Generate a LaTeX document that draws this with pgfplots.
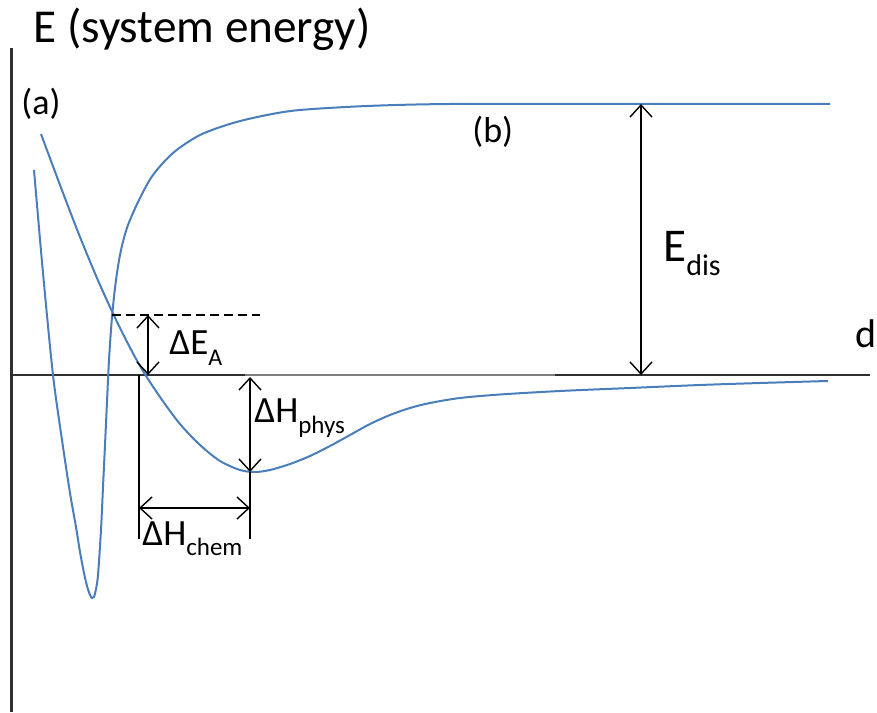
\documentclass[border=0pt]{standalone}
\usepackage{fontspec}
\setmainfont{Carlito}
\usepackage{pgfplots}
\pgfplotsset{compat=1.18}
\usetikzlibrary{arrows.meta}

\definecolor{curve}{HTML}{4A7EBB}
\definecolor{axisdark}{HTML}{303030}
\definecolor{axisgray}{HTML}{7F7F7F}

\newcommand{\fs}[1]{\fontsize{#1}{#1}\selectfont}
\newcommand{\sub}[2]{\raisebox{-0.28em}{\fs{#1}#2}}

\begin{document}
\begin{tikzpicture}[
  dbl/.style={black, line width=0.7pt,
    {Straight Barb[length=6pt,width=11pt]}-{Straight Barb[length=6pt,width=11pt]}}]
\begin{axis}[
  scale only axis,
  width=438.5pt, height=356pt,
  xmin=0, xmax=877, ymin=-337, ymax=375,
  axis lines=none, ticks=none,
  clip=false,
]
% energy axis and distance axis
\draw[axisdark, line width=1.5pt] (axis cs:11,327) -- (axis cs:11,-337);
\draw[axisdark, line width=1.2pt] (axis cs:10,0) -- (axis cs:870,0);
\draw[axisgray, line width=1.4pt] (axis cs:245,0) -- (axis cs:555,0);

% (a) physisorption potential
\addplot[curve, line width=1pt, smooth] coordinates {
  (41,241) (60,190) (80,138) (100,90) (120,47) (140,9) (160,-22)
  (180,-49) (200,-70) (220,-86) (240,-95) (255,-97) (270,-95)
  (290,-89) (310,-81) (330,-71) (350,-60) (370,-49) (390,-40)
  (410,-33) (430,-28) (460,-23) (500,-19.5) (560,-16) (630,-13)
  (700,-10) (760,-8) (828,-6)
};

% (b) chemisorption potential
\addplot[curve, line width=1pt, smooth] coordinates {
  (34,205) (43,102) (53,0) (62,-65) (70,-118) (76,-152) (80,-177)
  (84,-198) (87,-211) (90,-220) (92,-223) (94,-222) (96,-214)
  (98,-200) (101,-155) (103,-112) (105,-70) (107,-27) (109,15)
  (112,58) (116,95) (121,125) (128,150) (140,177) (153,200)
  (173,222) (200,240) (233,252) (267,260) (300,265) (367,269)
  (450,271) (600,271) (830,271)
};

% activation barrier
\draw[black, line width=0.75pt, dash pattern=on 4.5pt off 2.5pt]
  (axis cs:112,60) -- (axis cs:260,60);
\draw[dbl] (axis cs:148,60) -- (axis cs:148,0);

% physisorption depth
\draw[dbl] (axis cs:250,-2) -- (axis cs:250,-97);

% chemisorption distance
\draw[black, line width=0.8pt] (axis cs:139,0) -- (axis cs:139,-164);
\draw[black, line width=0.8pt] (axis cs:250,-97) -- (axis cs:250,-164);
\draw[dbl] (axis cs:139,-133) -- (axis cs:250,-133);

% dissociation energy
\draw[dbl] (axis cs:641,271) -- (axis cs:641,0);

% labels
\node[anchor=base west, inner sep=0pt] at (axis cs:33,332)
  {\fs{23.6}E (system energy)};
\node[anchor=base west, inner sep=0pt] at (axis cs:21,260) {\fs{18}(a)};
\node[anchor=base west, inner sep=0pt] at (axis cs:472,232) {\fs{18}(b)};
\node[anchor=base west, inner sep=0pt] at (axis cs:169,20)
  {\fs{18.5}ΔE\sub{12}{A}};
\node[anchor=base west, inner sep=0pt] at (axis cs:254,-48)
  {\fs{18.5}ΔH\sub{12.5}{phys}};
\node[anchor=base west, inner sep=0pt] at (axis cs:142,-170)
  {\fs{18.5}ΔH\sub{12.5}{chem}};
\node[anchor=base west, inner sep=0pt] at (axis cs:663,113)
  {\fs{23.5}E\sub{15}{dis}};
\node[anchor=base west, inner sep=0pt] at (axis cs:855,27) {\fs{20}d};
\end{axis}
\pgfresetboundingbox
\path[use as bounding box] (current axis.south west) rectangle (current axis.north east);
\end{tikzpicture}
\end{document}
